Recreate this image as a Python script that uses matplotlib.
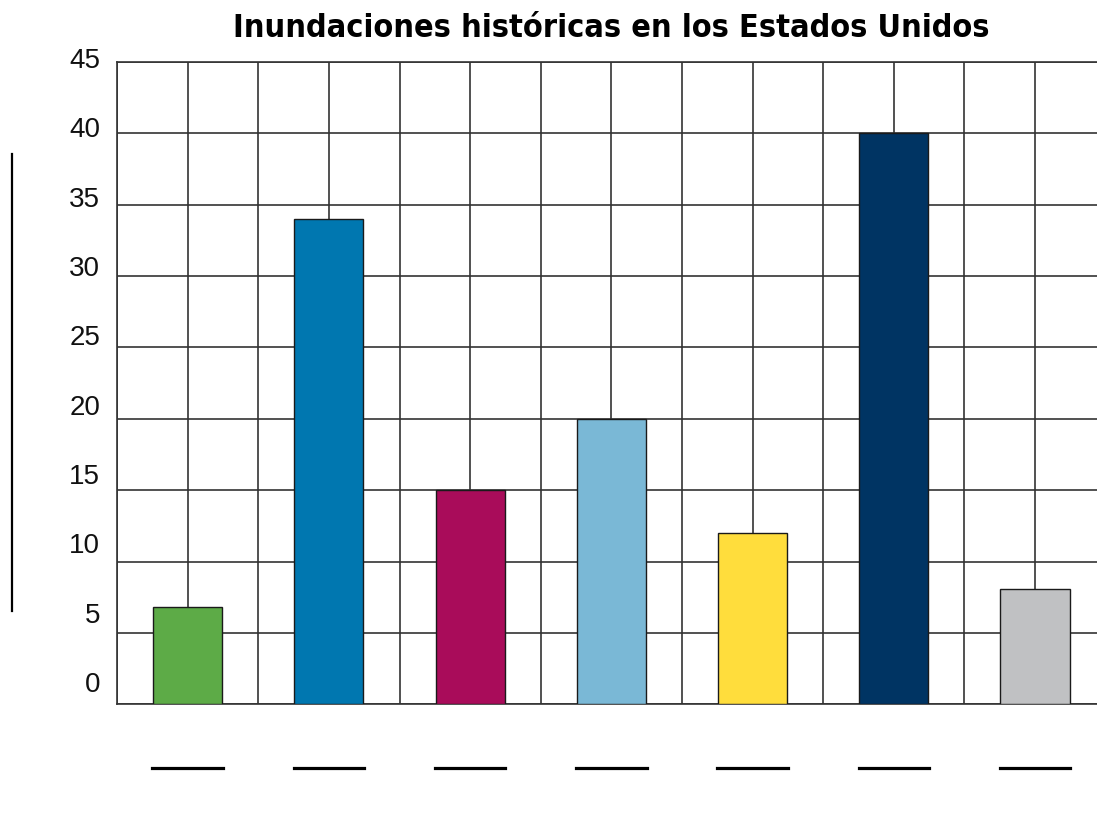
import matplotlib
matplotlib.use("Agg")
import matplotlib.pyplot as plt
import matplotlib.transforms as mtransforms
from matplotlib.lines import Line2D
import numpy as np

# valores
valores = [6.8, 34, 15, 20, 12, 40, 8.1]
colores = ['#5DAB47', '#0077B0', '#A90C5A', '#7AB8D6', '#FFDD3C', '#003463', '#C0C1C3']
yticks = [0, 5, 10, 15, 20, 25, 30, 35, 40, 45]
titulo = 'Inundaciones históricas en los Estados Unidos'

grid_color = '#333333'

fig = plt.figure(figsize=(10.97, 8.37), dpi=100)
ax = fig.add_axes([0.1067, 0.1574, 0.9012, 0.7673])

x = np.arange(len(valores))
ax.bar(x, valores, width=0.49, color=colores, edgecolor='#1a1a1a', linewidth=1.0, zorder=3)

ax.set_xlim(-0.5, len(valores) - 0.5)
ax.set_ylim(0, 45)
ax.set_xticks(np.arange(-0.5, len(valores), 0.5))
ax.set_yticks(yticks)
ax.tick_params(length=0, labelbottom=False, labelleft=False)
ax.grid(True, color=grid_color, linewidth=1.2, zorder=0)
for s in ['left', 'top', 'bottom']:
    ax.spines[s].set_color(grid_color)
    ax.spines[s].set_linewidth(1.2)
ax.spines['right'].set_visible(False)

# etiquetas del eje y (ligeramente desalineadas como en el original)
for v in yticks:
    ax.text(-0.62, 1.42 + 0.9718 * v, str(v), ha='right', va='center',
            fontsize=20, family='Liberation Sans', color='#111111')

ax.set_title(titulo, fontsize=23.2, fontweight='bold', family='DejaVu Sans',
             fontstretch='condensed', pad=19)

# lineas en blanco para las etiquetas de categoria
trans = mtransforms.blended_transform_factory(ax.transData, ax.transAxes)
for i in x:
    ax.plot([i - 0.25, i + 0.25], [-0.099, -0.099], color='black', linewidth=2.3,
            transform=trans, clip_on=False)

# linea en blanco para el titulo del eje y
fig.add_artist(Line2D([0.0105, 0.0105], [0.269, 0.815], color='black', linewidth=1.6))

fig.savefig('out.png', dpi=100)
